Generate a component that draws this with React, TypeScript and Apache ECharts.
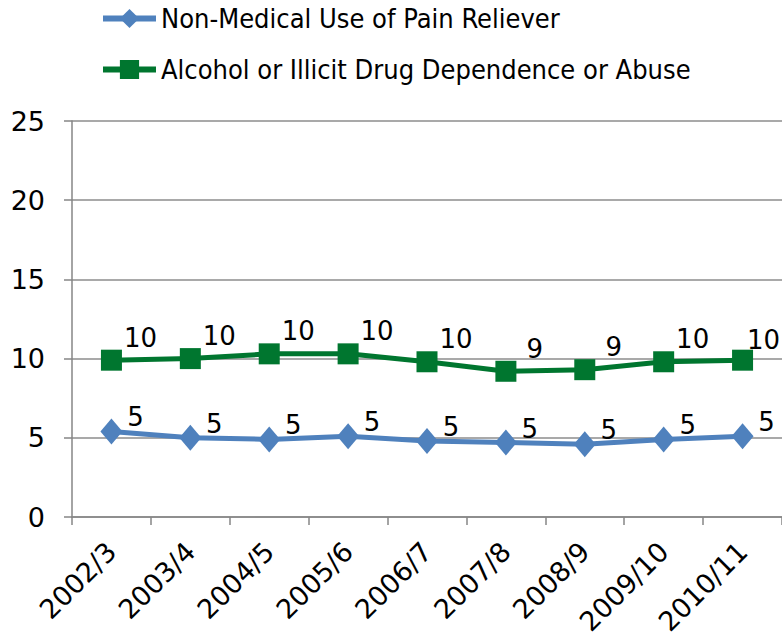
import React, { useEffect, useRef } from "react";
import * as echarts from "echarts";

const categories = ["2002/3", "2003/4", "2004/5", "2005/6", "2006/7", "2007/8", "2008/9", "2009/10", "2010/11"];
const painReliever = [5.4, 5.0, 4.9, 5.1, 4.8, 4.7, 4.6, 4.9, 5.1];
const dependence = [9.9, 10.0, 10.3, 10.3, 9.8, 9.2, 9.3, 9.8, 9.9];
const seriesNames = ["Non-Medical Use of Pain Reliever", "Alcohol or Illicit Drug Dependence or Abuse"];

const NUM_FONT = "'DejaVu Sans', sans-serif";
const TEXT_FONT = "'DejaVu Sans Condensed', 'DejaVu Sans', sans-serif";

export default function App() {
  const ref = useRef<HTMLDivElement>(null);
  useEffect(() => {
    if (!ref.current) return;
    const chart = echarts.init(ref.current, null, { renderer: "svg" });
    const labelStyle = {
      show: true,
      position: "top" as const,
      distance: 4,
      fontFamily: NUM_FONT,
      fontSize: 26,
      color: "#000",
      formatter: (p: any) => String(Math.round(p.value)),
    };
    const greenData = dependence.map((v, i) =>
      i === dependence.length - 1 ? { value: v, label: { offset: [21, 7] } } : v
    );
    chart.setOption({
      animation: false,
      textStyle: { fontFamily: TEXT_FONT },
      legend: {
        orient: "vertical",
        left: 100,
        top: 5,
        padding: 0,
        itemWidth: 53,
        itemHeight: 24,
        itemGap: 24,
        lineStyle: { width: 6 },
        textStyle: { fontFamily: TEXT_FONT, fontSize: 27, color: "#000" },
        data: seriesNames,
      },
      grid: { left: 72, right: 0, top: 121, bottom: 124, containLabel: false },
      xAxis: {
        type: "category",
        data: categories,
        boundaryGap: true,
        axisLine: { lineStyle: { color: "#868686", width: 1.5 } },
        axisTick: { show: true, length: 8, lineStyle: { color: "#868686", width: 1.5 } },
        axisLabel: { rotate: 45, fontFamily: NUM_FONT, fontSize: 27, color: "#000", margin: 30 },
      },
      yAxis: {
        type: "value",
        min: 0,
        max: 25,
        interval: 5,
        axisLine: { show: true, lineStyle: { color: "#868686", width: 1.5 } },
        axisTick: { show: true, length: 8, lineStyle: { color: "#868686", width: 1.5 } },
        splitLine: { show: true, lineStyle: { color: "#8c8c8c", width: 1.5 } },
        axisLabel: { fontFamily: NUM_FONT, fontSize: 27, color: "#000", margin: 27 },
      },
      series: [
        {
          name: seriesNames[0],
          type: "line",
          data: painReliever,
          symbol: "diamond",
          symbolSize: [22, 26],
          lineStyle: { color: "#4f81bd", width: 5 },
          itemStyle: { color: "#4f81bd" },
          label: { ...labelStyle, offset: [24, 16] },
        },
        {
          name: seriesNames[1],
          type: "line",
          data: greenData,
          symbol: "rect",
          symbolSize: 21,
          lineStyle: { color: "#00762f", width: 5 },
          itemStyle: { color: "#00762f" },
          label: { ...labelStyle, offset: [29, 5] },
        },
      ],
    });
    return () => chart.dispose();
  }, []);
  return <div ref={ref} style={{ width: 782, height: 641, position: "absolute", left: 0, top: 0 }} />;
}
